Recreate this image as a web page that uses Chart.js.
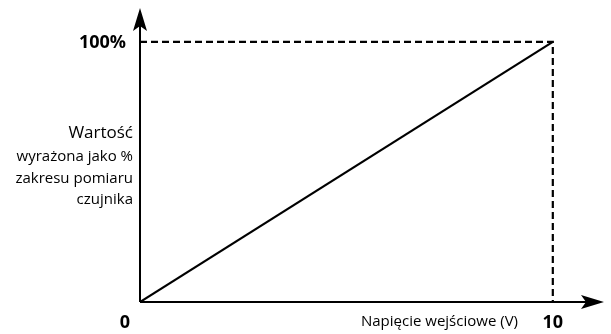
<!DOCTYPE html>
<html>
<head>
<meta charset="utf-8">
<script src="https://cdn.jsdelivr.net/npm/chart.js@4"></script>
<style>
  html, body { margin: 0; padding: 0; background: #fff; }
  #wrap { width: 611px; height: 334px; }
</style>
</head>
<body>
<div id="wrap"><canvas id="chart" width="611" height="334"></canvas></div>
<script>
// Data
const xValues = [0, 10];          // input voltage (V)
const yValues = [0, 100];         // % of sensor range
const refX = [0, 10, 10];         // dashed guide
const refY = [100, 100, 0];
const xTickValues = [0, 10];
const xTickLabels = ['0', '10'];
const yTickValues = [100];
const yTickLabels = ['100%'];
const xTitle = 'Napięcie wejściowe (V)';
const yTitle = ['Wartość', 'wyrażona jako %', 'zakresu pomiaru', 'czujnika'];

const X_MAX = 11.24;
const Y_MAX = 113;

// Axes with arrow heads + labels
const axesPlugin = {
  id: 'axes',
  beforeDatasetsDraw(chart) {
    const { ctx, scales: { x, y } } = chart;
    const x0 = x.getPixelForValue(0), y0 = y.getPixelForValue(0);
    const xr = x.getPixelForValue(X_MAX), yt = y.getPixelForValue(Y_MAX);
    ctx.save();
    ctx.strokeStyle = '#000';
    ctx.fillStyle = '#000';
    ctx.lineWidth = 2;
    ctx.beginPath();
    ctx.moveTo(x0, y0); ctx.lineTo(x0, yt + 16);
    ctx.moveTo(x0, y0); ctx.lineTo(xr - 16, y0);
    ctx.stroke();
    // up arrow
    ctx.beginPath();
    ctx.moveTo(x0, yt);
    ctx.lineTo(x0 + 7, yt + 23);
    ctx.lineTo(x0, yt + 18);
    ctx.lineTo(x0 - 7, yt + 23);
    ctx.closePath();
    ctx.fill();
    // right arrow
    ctx.beginPath();
    ctx.moveTo(xr, y0);
    ctx.lineTo(xr - 23, y0 - 7);
    ctx.lineTo(xr - 18, y0);
    ctx.lineTo(xr - 23, y0 + 7);
    ctx.closePath();
    ctx.fill();
    ctx.restore();
  },
  afterDraw(chart) {
    const { ctx, scales: { x, y } } = chart;
    const x0 = x.getPixelForValue(0), y0 = y.getPixelForValue(0);
    ctx.save();
    ctx.fillStyle = '#000';
    ctx.textBaseline = 'middle';
    ctx.font = 'bold 18px "Open Sans"';
    yTickValues.forEach((v, i) => {
      ctx.textAlign = 'right';
      ctx.fillText(yTickLabels[i], x0 - 14, y.getPixelForValue(v) + 1);
    });
    xTickValues.forEach((v, i) => {
      ctx.textAlign = 'center';
      const px = v === 0 ? x0 - 15 : x.getPixelForValue(v);
      ctx.fillText(xTickLabels[i], px, y0 + 21);
    });
    // x title
    ctx.font = '15px "Open Sans"';
    ctx.textAlign = 'right';
    ctx.fillText(xTitle, 518, y0 + 20);
    // y title
    const lineY = [133, 157, 179, 200];
    yTitle.forEach((t, i) => {
      ctx.font = (i === 0 ? '17px' : '15px') + ' "Open Sans"';
      ctx.fillText(t, x0 - 7, lineY[i]);
    });
    ctx.restore();
  }
};

new Chart(document.getElementById('chart'), {
  type: 'scatter',
  data: {
    datasets: [
      {
        data: xValues.map((v, i) => ({ x: v, y: yValues[i] })),
        showLine: true, borderColor: '#000', borderWidth: 2.2, pointRadius: 0
      },
      {
        data: refX.map((v, i) => ({ x: v, y: refY[i] })),
        showLine: true, borderColor: '#000', borderWidth: 2.2, borderDash: [7, 4], pointRadius: 0
      }
    ]
  },
  options: {
    responsive: false,
    animation: false,
    layout: { padding: { left: 140, right: 7, top: 8, bottom: 32 } },
    plugins: { legend: { display: false }, tooltip: { enabled: false } },
    scales: {
      x: { type: 'linear', min: 0, max: X_MAX, display: false },
      y: { type: 'linear', min: 0, max: Y_MAX, display: false }
    }
  },
  plugins: [axesPlugin]
});
</script>
</body>
</html>
